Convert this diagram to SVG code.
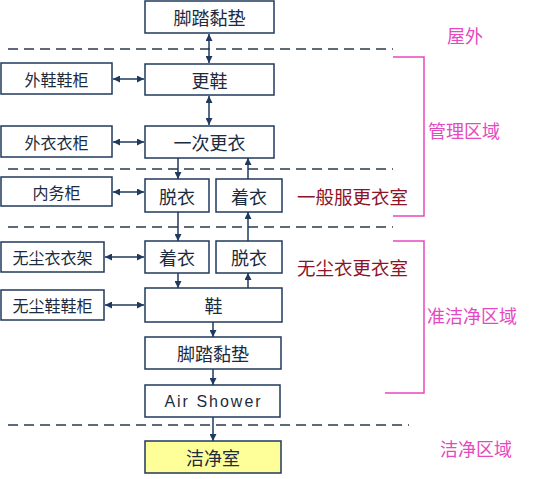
<svg xmlns="http://www.w3.org/2000/svg" width="546" height="479" viewBox="0 0 546 479">
<defs>
<marker id="ah" viewBox="0 0 10 10" refX="10" refY="5" markerWidth="7" markerHeight="7" markerUnits="userSpaceOnUse" orient="auto-start-reverse">
<path d="M0,0 L10,5 L0,10 z" fill="#1F3A5F"/>
</marker>
<style>
.box{fill:#fff;stroke:#1F3A5F;stroke-width:1.5}
.clean{fill:#FFFF99;stroke:#1F3A5F;stroke-width:1.5}
.t{font-family:"Noto Sans CJK SC","Noto Sans",sans-serif;font-size:18px;fill:#1C2B3E;text-anchor:middle;dominant-baseline:central}
.ts{font-family:"Noto Sans CJK SC","Noto Sans",sans-serif;font-size:16px;fill:#1C2B3E;text-anchor:middle;dominant-baseline:central}
.ta{font-family:"Liberation Sans",sans-serif;font-size:16px;fill:#1C2B3E;text-anchor:middle;dominant-baseline:central;letter-spacing:2px}
.c{stroke:#1F3A5F;stroke-width:1.5;fill:none}
.cu{stroke:#1F3A5F;stroke-width:1.5;fill:none;marker-end:url(#ah)}
.cb{stroke:#1F3A5F;stroke-width:1.5;fill:none;marker-start:url(#ah);marker-end:url(#ah)}
.dash{stroke:#2B3A4C;stroke-width:1.5;stroke-dasharray:10 6;fill:none}
.br{stroke:#E548C0;stroke-width:1.5;fill:none}
.pk{font-family:"Noto Sans CJK SC","Noto Sans",sans-serif;font-size:18px;fill:#E548C0;dominant-baseline:central}
.dr{font-family:"Noto Sans CJK SC","Noto Sans",sans-serif;font-size:18.5px;fill:#8C1428;dominant-baseline:central}
</style>
</defs>

<g id="zones">
<line class="dash" x1="8" y1="49" x2="393" y2="49"/>
<line class="dash" x1="8" y1="169" x2="393" y2="169"/>
<line class="dash" x1="8" y1="227" x2="393" y2="227"/>
<line class="dash" x1="8" y1="425" x2="409" y2="425"/>
<polyline class="br" points="393,57 424,57 424,216 393,216"/>
<polyline class="br" points="393,241 424,241 424,393 385,393"/>
<text class="pk" x="447" y="35">屋外</text>
<text class="pk" x="428" y="130">管理区域</text>
<text class="pk" x="427" y="315">准洁净区域</text>
<text class="pk" x="440" y="448">洁净区域</text>
<text class="dr" x="297" y="196">一般服更衣室</text>
<text class="dr" x="297" y="267">无尘衣更衣室</text>
</g>

<g id="n_mat1"><rect class="box" x="145" y="1" width="129" height="32"/><text class="t" x="209.5" y="17">脚踏黏垫</text></g>
<g id="n_shoe"><rect class="box" x="145" y="64" width="129" height="31"/><text class="t" x="209.5" y="79.5">更鞋</text></g>
<g id="n_first"><rect class="box" x="145" y="126" width="129" height="32"/><text class="t" x="209.5" y="142">一次更衣</text></g>
<g id="n_outshoe"><rect class="box" x="1" y="63" width="111" height="31"/><text class="ts" x="56.5" y="78.5">外鞋鞋柜</text></g>
<g id="n_outcloth"><rect class="box" x="1" y="126" width="111" height="31"/><text class="ts" x="56.5" y="141.5">外衣衣柜</text></g>
<g id="n_inner"><rect class="box" x="1" y="177" width="111" height="29"/><text class="ts" x="56.5" y="191.5">内务柜</text></g>
<g id="n_rack"><rect class="box" x="1" y="242" width="103" height="30"/><text class="ts" x="52.5" y="257">无尘衣衣架</text></g>
<g id="n_cab"><rect class="box" x="1" y="290" width="103" height="30"/><text class="ts" x="52.5" y="305">无尘鞋鞋柜</text></g>
<g id="n_undress1"><rect class="box" x="145" y="179" width="64" height="33"/><text class="t" x="177" y="195.5">脱衣</text></g>
<g id="n_dress1"><rect class="box" x="216" y="179" width="66" height="33"/><text class="t" x="249" y="195.5">着衣</text></g>
<g id="n_dress2"><rect class="box" x="145" y="241" width="64" height="32"/><text class="t" x="177" y="257">着衣</text></g>
<g id="n_undress2"><rect class="box" x="216" y="241" width="66" height="32"/><text class="t" x="249" y="257">脱衣</text></g>
<g id="n_shoes"><rect class="box" x="145" y="288" width="137" height="34"/><text class="t" x="213.5" y="305">鞋</text></g>
<g id="n_mat2"><rect class="box" x="145" y="337" width="136" height="32"/><text class="t" x="213" y="353">脚踏黏垫</text></g>
<g id="n_air"><rect class="box" x="145" y="385" width="135" height="32"/><text class="ta" x="213.5" y="401">Air Shower</text></g>
<g id="n_clean"><rect class="clean" x="145" y="441" width="136" height="32"/><text class="t" x="213" y="457">洁净室</text></g>

<g id="connectors">
<line class="cb" x1="209" y1="34" x2="209" y2="63"/>
<line class="cb" x1="209" y1="96" x2="209" y2="125"/>
<line class="cb" x1="113" y1="79" x2="144" y2="79"/>
<line class="cb" x1="113" y1="142" x2="144" y2="142"/>
<line class="cb" x1="113" y1="192" x2="144" y2="192"/>
<line class="cb" x1="105" y1="257" x2="144" y2="257"/>
<line class="cb" x1="105" y1="305" x2="144" y2="305"/>
<line class="cu" x1="178" y1="158" x2="178" y2="179"/>
<line class="cu" x1="248" y1="179" x2="248" y2="158"/>
<line class="cu" x1="178" y1="212" x2="178" y2="241"/>
<line class="cu" x1="248" y1="241" x2="248" y2="212"/>
<line class="cu" x1="178" y1="273" x2="178" y2="288"/>
<line class="cu" x1="248" y1="288" x2="248" y2="273"/>
<line class="cu" x1="213" y1="322" x2="213" y2="337"/>
<line class="cu" x1="213" y1="369" x2="213" y2="385"/>
<line class="cu" x1="213" y1="417" x2="213" y2="441"/>
</g>
</svg>
